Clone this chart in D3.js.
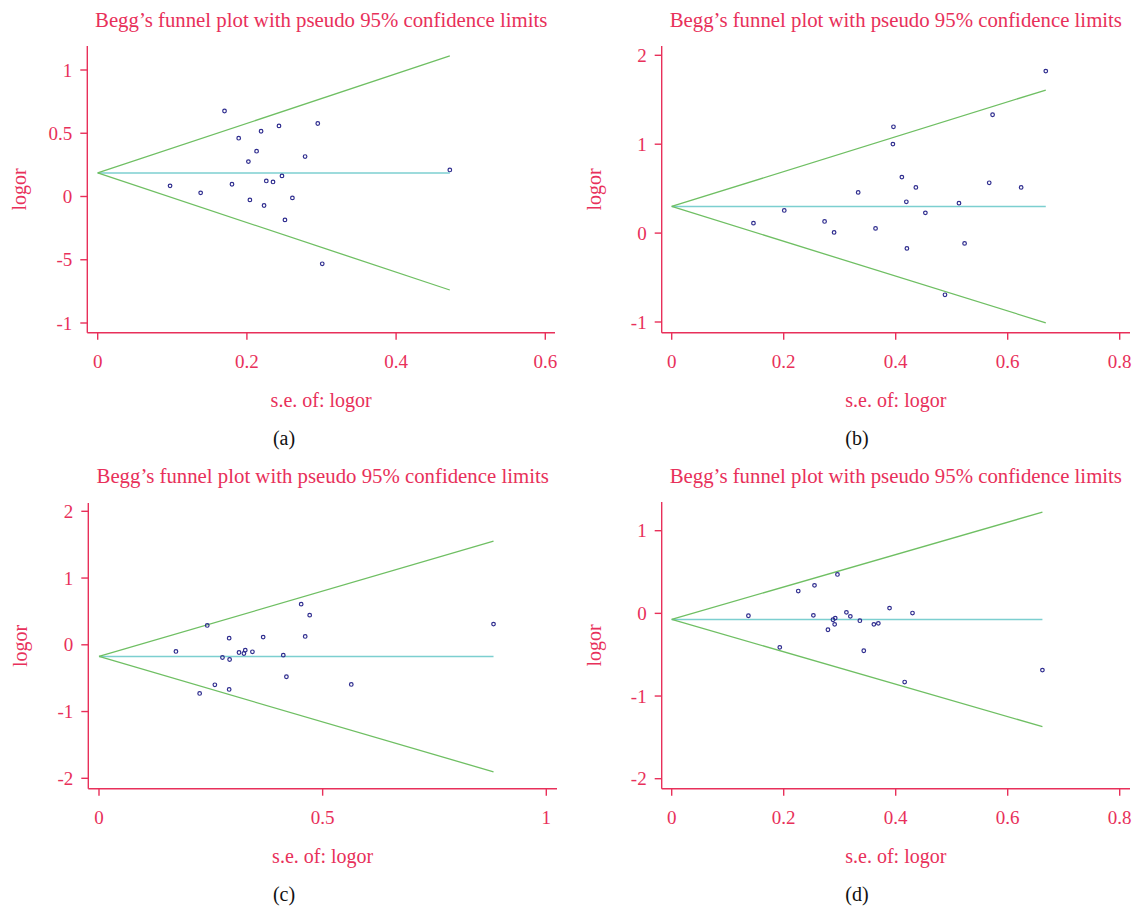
<!DOCTYPE html>
<html>
<head>
<meta charset="utf-8">
<script src="https://cdn.jsdelivr.net/npm/d3@7"></script>
<style>
  body { margin: 0; background: #fff; }
  svg { display: block; }
</style>
</head>
<body>
<div id="chart"></div>
<script>
// data
const seA = [0.170, 0.295, 0.243, 0.219, 0.189, 0.213, 0.278, 0.202, 0.472, 0.247,
             0.226, 0.235, 0.097, 0.180, 0.138, 0.261, 0.204, 0.223, 0.251, 0.301];
const logorA = [0.676, 0.577, 0.558, 0.516, 0.461, 0.358, 0.316, 0.276, 0.210, 0.163,
                0.123, 0.115, 0.084, 0.097, 0.029, -0.011, -0.027, -0.071, -0.185, -0.532];
const pooledA = 0.186;

const seB = [0.668, 0.573, 0.396, 0.395, 0.411, 0.436, 0.567, 0.624, 0.333, 0.419,
             0.513, 0.201, 0.453, 0.146, 0.273, 0.290, 0.364, 0.523, 0.420, 0.488];
const logorB = [1.822, 1.331, 1.196, 1.001, 0.630, 0.514, 0.566, 0.514, 0.458, 0.352,
                0.337, 0.255, 0.228, 0.112, 0.131, 0.008, 0.053, -0.116, -0.172, -0.694];
const pooledB = 0.300;

const seC = [0.452, 0.471, 0.882, 0.242, 0.291, 0.367, 0.461, 0.172, 0.327, 0.313,
             0.324, 0.343, 0.412, 0.276, 0.292, 0.419, 0.564, 0.259, 0.291, 0.225];
const logorC = [0.609, 0.444, 0.310, 0.290, 0.100, 0.115, 0.125, -0.100, -0.080, -0.115,
                -0.130, -0.105, -0.155, -0.190, -0.220, -0.479, -0.594, -0.599, -0.669, -0.729];
const pooledC = -0.175;

const seD = [0.296, 0.255, 0.226, 0.137, 0.253, 0.312, 0.319, 0.389, 0.430, 0.292,
             0.288, 0.291, 0.336, 0.361, 0.369, 0.279, 0.193, 0.343, 0.416, 0.662];
const logorD = [0.471, 0.339, 0.270, -0.029, -0.024, 0.012, -0.036, 0.064, 0.004, -0.057,
                -0.077, -0.133, -0.089, -0.133, -0.121, -0.198, -0.411, -0.452, -0.831, -0.686];
const pooledD = -0.073;

const xTicksA = [0, 0.2, 0.4, 0.6];
const xTicksB = [0, 0.2, 0.4, 0.6, 0.8];
const xTicksC = [0, 0.5, 1];
const xTicksD = [0, 0.2, 0.4, 0.6, 0.8];

const yTicksA = [1, 0.5, 0, -0.5, -1];
const yLabelsA = ["1", "0.5", "0", "-5", "-1"];
const yTicksB = [2, 1, 0, -1];
const yTicksC = [2, 1, 0, -1, -2];
const yTicksD = [1, 0, -1, -2];

const panelNames = ["(a)", "(b)", "(c)", "(d)"];
const title = "Begg\u2019s funnel plot with pseudo 95% confidence limits";

const pink = "#e8305a";
const font = "'Liberation Serif', 'DejaVu Serif', serif";

const width = 1135, height = 908;

const svg = d3.select("#chart")
    .append("svg")
    .attr("width", width)
    .attr("height", height);

// layout of each panel (pixel frame)
const panels = [
    { se: seA, y: logorA, pooled: pooledA, xTicks: xTicksA, yTicks: yTicksA, yLabels: yLabelsA,
      xDom: [0, 0.6], xRange: [97.7, 545.3], yDom: [-1, 1], yRange: [323, 70],
      left: 87.3, right: 555, top: 46, bottom: 332.7, dy: 0, lx: 284 },
    { se: seB, y: logorB, pooled: pooledB, xTicks: xTicksB, yTicks: yTicksB,
      xDom: [0, 0.8], xRange: [671.7, 1119.7], yDom: [-1, 2], yRange: [322, 55.3],
      left: 661.7, right: 1130, top: 46, bottom: 332.7, dy: 0, lx: 857 },
    { se: seC, y: logorC, pooled: pooledC, xTicks: xTicksC, yTicks: yTicksC,
      xDom: [0, 1], xRange: [99, 546.3], yDom: [-2, 2], yRange: [778.3, 511.3],
      left: 88.3, right: 557, top: 503, bottom: 788.7, dy: 456, lx: 284 },
    { se: seD, y: logorD, pooled: pooledD, xTicks: xTicksD, yTicks: yTicksD,
      xDom: [0, 0.8], xRange: [671.7, 1119.7], yDom: [-2, 1], yRange: [778.7, 530.7],
      left: 661.7, right: 1130, top: 502, bottom: 788.7, dy: 456, lx: 857 }
];

panels.forEach((p, i) => {
    const g = svg.append("g");
    const x = d3.scaleLinear().domain(p.xDom).range(p.xRange);
    const y = d3.scaleLinear().domain(p.yDom).range(p.yRange);
    const cx = (p.left + p.right) / 2;

    // title
    g.append("text")
        .attr("x", cx)
        .attr("y", 27 + p.dy)
        .attr("text-anchor", "middle")
        .attr("fill", pink)
        .attr("font-family", font)
        .attr("font-size", 20.8)
        .text(title);

    // axes lines
    g.append("line")
        .attr("x1", p.left).attr("x2", p.left)
        .attr("y1", p.top).attr("y2", p.bottom)
        .attr("stroke", pink).attr("stroke-width", 1.4);
    g.append("line")
        .attr("x1", p.left).attr("x2", p.right)
        .attr("y1", p.bottom).attr("y2", p.bottom)
        .attr("stroke", pink).attr("stroke-width", 1.4);

    // y ticks (hyphen minus, as in the figure)
    const yt = g.append("g").selectAll("g")
        .data(p.yTicks)
        .join("g");
    yt.append("line")
        .attr("x1", p.left - 7).attr("x2", p.left)
        .attr("y1", d => y(d)).attr("y2", d => y(d))
        .attr("stroke", pink).attr("stroke-width", 1.4);
    yt.append("text")
        .attr("x", p.left - 15)
        .attr("y", d => y(d))
        .attr("dy", "0.35em")
        .attr("text-anchor", "end")
        .attr("fill", pink)
        .attr("font-family", font)
        .attr("font-size", 19)
        .text((d, j) => p.yLabels ? p.yLabels[j] : String(d));

    // x ticks
    const xt = g.append("g").selectAll("g")
        .data(p.xTicks)
        .join("g");
    xt.append("line")
        .attr("x1", d => x(d)).attr("x2", d => x(d))
        .attr("y1", p.bottom).attr("y2", p.bottom + 7)
        .attr("stroke", pink).attr("stroke-width", 1.4);
    xt.append("text")
        .attr("x", d => x(d))
        .attr("y", p.bottom + 35)
        .attr("text-anchor", "middle")
        .attr("fill", pink)
        .attr("font-family", font)
        .attr("font-size", 19)
        .text(d => String(d));

    // axis titles
    g.append("text")
        .attr("x", cx)
        .attr("y", p.bottom + 74)
        .attr("text-anchor", "middle")
        .attr("fill", pink)
        .attr("font-family", font)
        .attr("font-size", 20)
        .text("s.e. of: logor");
    g.append("text")
        .attr("transform", `translate(${p.left - 61},${(p.top + p.bottom) / 2}) rotate(-90)`)
        .attr("text-anchor", "middle")
        .attr("fill", pink)
        .attr("font-family", font)
        .attr("font-size", 20)
        .text("logor");

    // panel label
    g.append("text")
        .attr("x", p.lx)
        .attr("y", p.bottom + 112)
        .attr("text-anchor", "middle")
        .attr("fill", "#111")
        .attr("font-family", font)
        .attr("font-size", 20)
        .text(panelNames[i]);

    // funnel: pooled +/- 1.96*se up to the largest se
    const maxSe = d3.max(p.se);
    const upper = [[0, p.pooled], [maxSe, p.pooled + 1.96 * maxSe]];
    const lower = [[0, p.pooled], [maxSe, p.pooled - 1.96 * maxSe]];
    const line = d3.line().x(d => x(d[0])).y(d => y(d[1]));

    g.append("path")
        .attr("d", line([[0, p.pooled], [maxSe, p.pooled]]))
        .attr("stroke", "#7ccfd0").attr("stroke-width", 1.5).attr("fill", "none");
    g.append("path")
        .attr("d", line(upper))
        .attr("stroke", "#6fbf63").attr("stroke-width", 1.3).attr("fill", "none");
    g.append("path")
        .attr("d", line(lower))
        .attr("stroke", "#6fbf63").attr("stroke-width", 1.3).attr("fill", "none");

    // studies
    g.append("g")
        .selectAll("circle")
        .data(p.se.map((s, j) => [s, p.y[j]]))
        .join("circle")
        .attr("cx", d => x(d[0]))
        .attr("cy", d => y(d[1]))
        .attr("r", 1.8)
        .attr("fill", "none")
        .attr("stroke", "#2e2c8e")
        .attr("stroke-width", 1.2);
});
</script>
</body>
</html>
